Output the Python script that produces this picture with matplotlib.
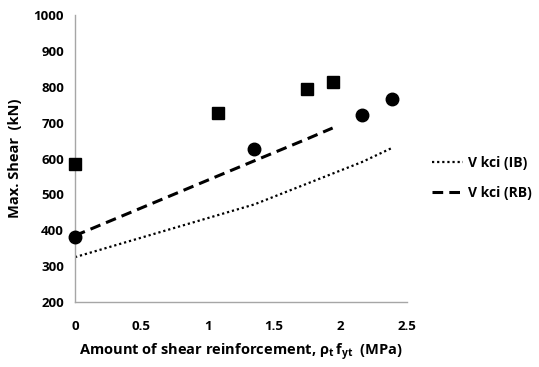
import matplotlib.pyplot as plt

plt.rcParams['font.family'] = ['Open Sans', 'DejaVu Sans']
plt.rcParams['font.weight'] = 'bold'

# measured shear capacity, two specimen groups
sq_x = [0, 1.08, 1.75, 1.94]
sq_y = [585, 727, 794, 813]
circ_x = [0, 1.35, 2.16, 2.39]
circ_y = [382, 627, 721, 766]

# predicted Vkci curves
ib_x = [0, 1.35, 2.16, 2.39]
ib_y = [325, 472, 590, 630]
rb_x = [0, 1.08, 1.75, 1.94]
rb_y = [385, 552, 655, 685]

fig = plt.figure(figsize=(5.39, 3.67), dpi=100)
ax = fig.add_axes([75 / 539, 1 - 302 / 367, (407 - 75) / 539, (302 - 15) / 367])

ax.plot(sq_x, sq_y, 's', color='black', markersize=9, linestyle='none', clip_on=False, zorder=3)
ax.plot(circ_x, circ_y, 'o', color='black', markersize=9, linestyle='none', clip_on=False, zorder=3)
ax.plot(ib_x, ib_y, color='black', linestyle=(0, (1, 1.3)), linewidth=1.6, label='V kci (IB)')
ax.plot(rb_x, rb_y, color='black', linestyle=(0, (3.5, 2)), linewidth=2.2, label='V kci (RB)')

ax.set_xlim(0, 2.5)
ax.set_ylim(200, 1000)
ax.set_xticks([0, 0.5, 1, 1.5, 2, 2.5])
ax.set_xticklabels(['0', '0.5', '1', '1.5', '2', '2.5'])
ax.set_yticks(range(200, 1001, 100))
ax.tick_params(length=0, labelsize=9.5, pad=8)
ax.tick_params(axis='x', pad=13)
for lbl in ax.get_xticklabels() + ax.get_yticklabels():
    lbl.set_fontweight('bold')

for side in ['top', 'right']:
    ax.spines[side].set_visible(False)
for side in ['left', 'bottom']:
    ax.spines[side].set_color('#a6a6a6')
    ax.spines[side].set_linewidth(1)

ax.set_xlabel(r'Amount of shear reinforcement, $\mathregular{\rho_t\,f_{yt}}$  (MPa)',
              fontsize=10.5, fontweight='bold', labelpad=6)
ax.set_ylabel('Max. Shear  (kN)', fontsize=10.5, fontweight='bold', labelpad=8)

ax.legend(loc='center left', bbox_to_anchor=((432 - 75) / 332, (302 - 178) / 287),
          frameon=False, borderaxespad=0, borderpad=0,
          handlelength=2.2, handletextpad=0.4, labelspacing=1.2,
          prop={'weight': 'bold', 'size': 10})

fig.savefig('out.png', dpi=100)
